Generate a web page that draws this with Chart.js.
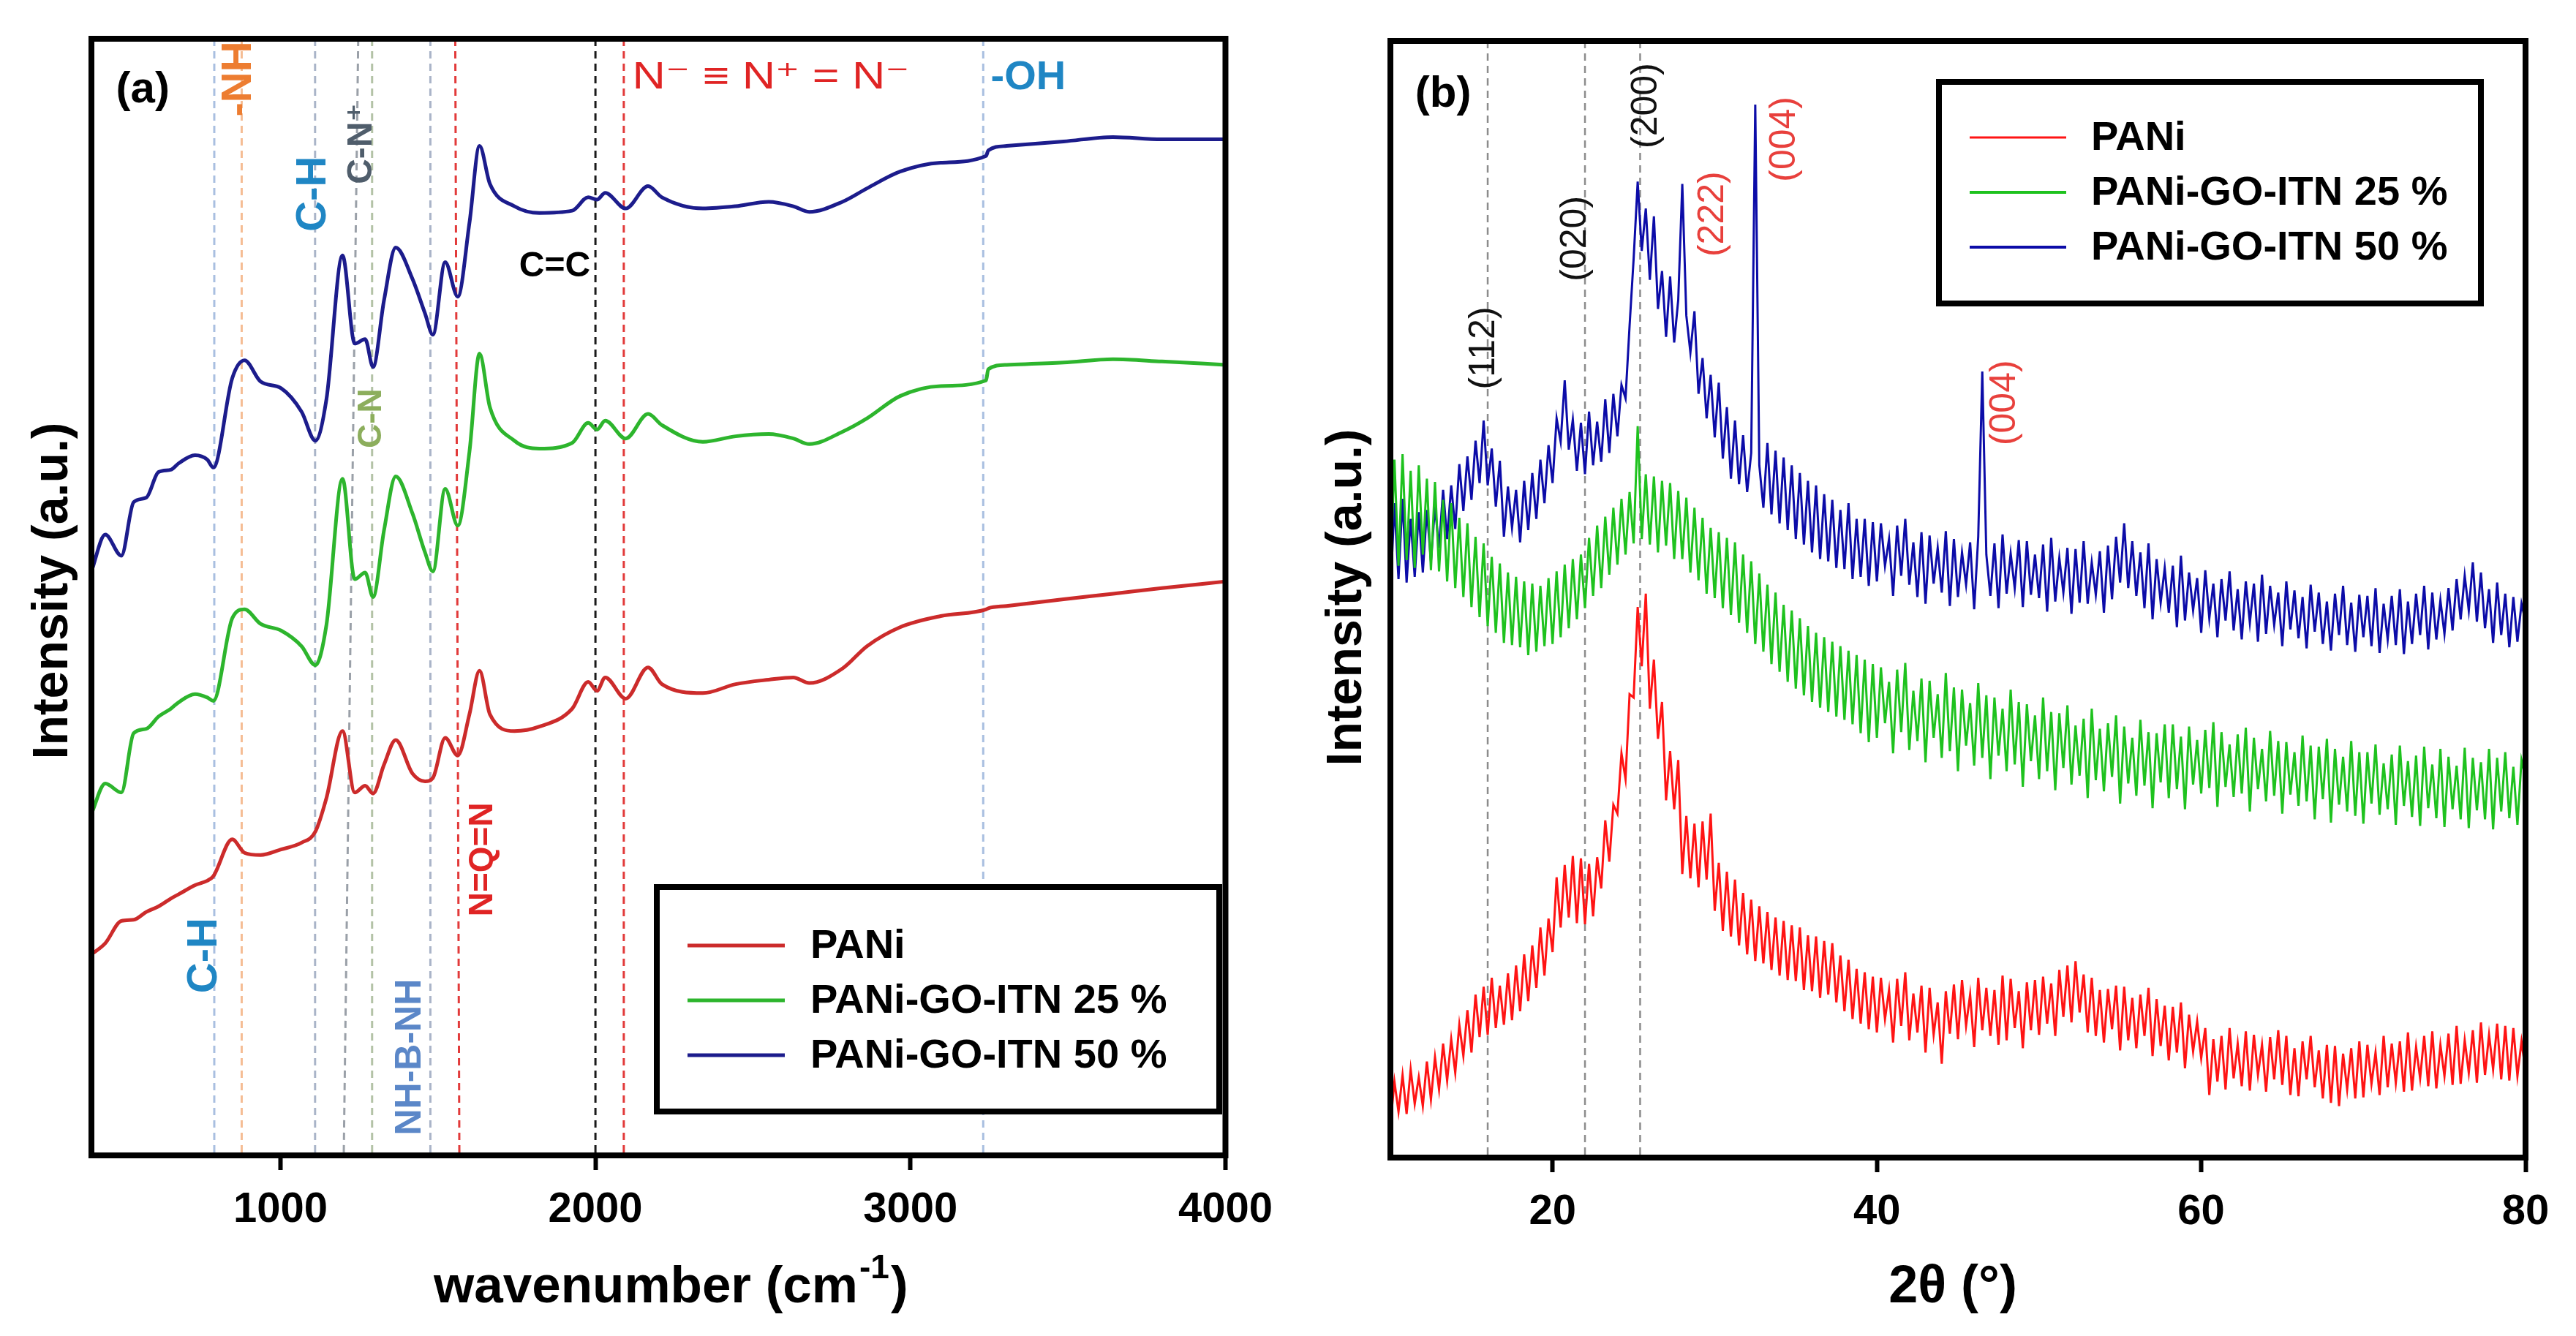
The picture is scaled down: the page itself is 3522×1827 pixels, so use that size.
<!DOCTYPE html>
<html><head><meta charset="utf-8">
<script src="https://cdn.jsdelivr.net/npm/chart.js@4/dist/chart.umd.min.js"></script>
<style>
html,body{margin:0;padding:0;background:#fff;width:3522px;height:1827px;overflow:hidden}
canvas{position:absolute;top:0}
#ca{left:0}#cb{left:1760px}
</style></head><body>
<canvas id="ca" width="1760" height="1827"></canvas>
<canvas id="cb" width="1762" height="1827"></canvas>
<script>
// ---------------- DATA ----------------
const seriesNames = ['PANi', 'PANi-GO-ITN 25 %', 'PANi-GO-ITN 50 %'];

// (a) FTIR
const ftirWavenumber = [400,444,495,534,574,613,652,678,729,768,
  787,847,886,937,1002,1067,1111,1146,1197,1236,
  1269,1294,1329,1366,1419,1459,1484,1523,1563,1600,
  1632,1665,1743,1822,1926,1977,2005,2031,2096,2167,
  2211,2341,2445,2550,2628,2679,2784,2862,2967,3096,
  3240,3247,3305,3486,3643,3798,4000];
const ftirPANi = [18.0,19.0,21.0,21.1,21.8,22.3,23.0,23.4,24.2,24.6,
  25.0,28.3,27.1,26.9,27.4,28.0,29.0,32.0,38.0,32.5,
  33.1,32.4,35.0,37.2,34.2,33.5,33.8,37.4,35.8,39.5,
  43.4,39.5,38.0,38.4,40.0,42.4,41.6,42.8,40.9,43.7,
  42.2,41.4,42.2,42.6,42.8,42.3,43.6,45.6,47.3,48.3,
  48.9,49.0,49.2,49.8,50.3,50.8,51.4];
const ftirGO25 = [30.6,33.3,32.5,37.8,38.2,39.3,40.0,40.6,41.3,41.0,
  40.7,48.1,48.9,47.6,47.0,45.6,43.9,47.5,60.6,51.6,
  52.2,50.0,56.0,60.8,57.5,54.0,52.3,59.7,56.4,63.0,
  71.8,67.0,64.0,63.3,63.8,65.6,65.0,65.8,64.2,66.4,
  65.4,63.9,64.4,64.6,64.2,63.7,64.8,66.0,68.0,68.9,
  69.4,70.4,70.8,71.0,71.3,71.1,70.8];
const ftirGO50 = [52.3,55.6,53.7,58.5,58.9,61.2,61.4,62.0,62.7,62.3,
  61.6,69.6,71.2,69.3,68.7,66.6,64.0,67.7,80.6,72.7,
  73.1,70.6,76.6,81.3,78.5,75.4,73.5,80.0,76.9,83.5,
  90.4,87.0,85.0,84.4,84.6,85.8,85.6,86.2,84.8,86.8,
  85.8,84.8,85.0,85.4,85.0,84.5,85.4,86.6,88.1,88.9,
  89.5,90.0,90.4,90.8,91.2,91.0,91.0];
const ftirTicks = [1000, 2000, 3000, 4000];
const ftirBandsTop    = [790, 877, 1110, 1247, 1291, 1476, 1555, 2000, 2090, 3231];
const ftirBandsBottom = [790, 877, 1110, 1201, 1291, 1476, 1568, 2000, 2090, 3231];

// (b) XRD
const xrdAngle = [
  10,10.25,10.5,10.75, 11,11.25,11.5,11.75, 12,12.25,12.5,12.75, 13,13.25,13.5,13.75, 14,14.25,14.5,14.75,
  15,15.25,15.5,15.75, 16,16.25,16.5,16.75, 17,17.25,17.5,17.75, 18,18.25,18.5,18.75, 19,19.25,19.5,19.75,
  20,20.25,20.5,20.75, 21,21.25,21.5,21.75, 22,22.25,22.5,22.75, 23,23.25,23.5,23.75, 24,24.25,24.5,24.75,
  25,25.25,25.5,25.75, 26,26.25,26.5,26.75, 27,27.25,27.5,27.75, 28,28.25,28.5,28.75, 29,29.25,29.5,29.75,
  30,30.25,30.5,30.75, 31,31.25,31.5,31.75, 32,32.25,32.5,32.75, 33,33.25,33.5,33.75, 34,34.25,34.5,34.75,
  35,35.25,35.5,35.75, 36,36.25,36.5,36.75, 37,37.25,37.5,37.75, 38,38.25,38.5,38.75, 39,39.25,39.5,39.75,
  40,40.25,40.5,40.75, 41,41.25,41.5,41.75, 42,42.25,42.5,42.75, 43,43.25,43.5,43.75, 44,44.25,44.5,44.75,
  45,45.25,45.5,45.75, 46,46.25,46.5,46.75, 47,47.25,47.5,47.75, 48,48.25,48.5,48.75, 49,49.25,49.5,49.75,
  50,50.25,50.5,50.75, 51,51.25,51.5,51.75, 52,52.25,52.5,52.75, 53,53.25,53.5,53.75, 54,54.25,54.5,54.75,
  55,55.25,55.5,55.75, 56,56.25,56.5,56.75, 57,57.25,57.5,57.75, 58,58.25,58.5,58.75, 59,59.25,59.5,59.75,
  60,60.25,60.5,60.75, 61,61.25,61.5,61.75, 62,62.25,62.5,62.75, 63,63.25,63.5,63.75, 64,64.25,64.5,64.75,
  65,65.25,65.5,65.75, 66,66.25,66.5,66.75, 67,67.25,67.5,67.75, 68,68.25,68.5,68.75, 69,69.25,69.5,69.75,
  70,70.25,70.5,70.75, 71,71.25,71.5,71.75, 72,72.25,72.5,72.75, 73,73.25,73.5,73.75, 74,74.25,74.5,74.75,
  75,75.25,75.5,75.75, 76,76.25,76.5,76.75, 77,77.25,77.5,77.75, 78,78.25,78.5,78.75, 79,79.25,79.5,79.75,
  80];
const xrdPANi = [
  3.0,6.8,4.1,7.4, 3.9,7.9,4.8,7.2, 4.6,8.6,5.2,9.0, 6.1,10.2,6.9,10.6, 7.6,11.9,9.1,13.2,
  9.4,14.6,10.8,15.3, 11.0,16.1,11.6,15.4, 11.9,16.5,12.3,17.2, 13.1,18.2,14.0,19.0, 15.2,20.6,16.3,21.4,
  18.4,25.1,20.6,26.2, 21.5,27.0,21.0,26.8, 20.9,26.3,21.6,26.9, 24.1,30.2,26.5,31.6, 30.8,36.2,33.9,41.5,
  41.2,49.3,44.0,50.5, 40.2,44.6,37.5,40.8, 32.0,36.4,31.2,35.6, 25.4,30.6,25.0,29.9, 24.2,30.1,24.9,30.8,
  22.1,26.4,20.3,25.6, 19.8,24.9,19.0,23.7, 18.2,23.1,17.6,22.5, 17.4,22.0,16.8,21.5, 16.3,21.2,15.9,20.8,
  15.8,20.6,15.0,19.9, 14.9,19.8,14.3,19.4, 14.6,19.2,13.9,18.1, 13.1,17.7,12.4,16.9, 12.0,16.6,11.5,16.2,
  11.2,16.1,12.4,15.0, 10.3,16.0,11.8,16.6, 10.5,14.7,11.2,15.4, 9.4,15.2,11.0,13.9, 8.4,14.9,11.1,15.5,
  10.6,15.9,11.8,14.6, 9.9,16.1,11.4,15.2, 10.9,15.0,10.1,16.3, 10.5,16.0,11.6,14.9, 9.8,15.7,11.4,15.9,
  11.0,16.2,12.0,15.6, 10.9,16.8,12.6,17.2, 12.1,17.6,13.0,16.4, 11.2,16.1,10.9,15.0, 10.3,15.1,11.5,15.4,
  9.6,15.3,10.5,14.3, 9.8,14.6,10.9,15.2, 9.1,14.2,10.0,13.6, 8.7,13.5,9.4,13.9, 8.0,12.8,9.5,12.2,
  8.9,11.6,5.6,10.6, 6.8,10.9,6.1,11.6, 7.1,10.2,6.4,11.3, 6.0,11.0,7.4,10.1, 5.9,10.8,7.0,11.4,
  6.5,10.9,5.6,9.8, 5.5,10.4,7.0,10.9, 6.3,9.6,5.3,10.1, 4.9,10.0,4.6,9.3, 6.1,9.8,5.3,10.4,
  5.4,10.1,6.6,9.4, 5.6,10.9,6.3,10.2, 6.7,10.4,5.9,11.2, 6.0,9.9,7.1,10.9, 6.4,11.3,6.2,10.1,
  7.3,11.1,6.5,11.8, 6.6,10.5,7.6,11.4, 6.7,12.1,7.4,11.0, 7.9,12.0,7.0,11.8, 6.9,11.6,7.3,10.4,
  7.8];
const xrdGO25 = [
  52.0,62.5,53.0,63.0, 53.5,61.5,52.8,62.0, 54.0,60.8,52.6,60.5, 52.5,58.9,51.6,58.6, 51.0,57.3,50.2,56.8,
  49.3,55.6,48.4,55.0, 47.6,53.8,47.0,53.2, 46.1,52.4,45.9,52.0, 45.7,51.6,45.0,51.4, 45.3,51.2,45.8,51.9,
  46.0,52.5,46.6,53.1, 47.4,53.6,48.2,54.0, 49.2,55.5,50.3,56.6, 51.0,57.4,52.2,58.2, 53.1,59.0,54.0,59.6,
  55.0,65.5,55.4,61.2, 54.9,61.0,54.2,60.6, 54.8,60.4,53.6,59.7, 53.6,59.1,52.4,58.2, 51.7,57.3,50.5,56.4,
  50.1,56.0,49.2,55.5, 48.6,55.1,47.9,54.0, 47.0,53.4,46.0,52.3, 45.3,51.3,44.2,50.6, 43.5,49.5,42.6,49.0,
  42.0,48.3,41.4,47.6, 40.8,47.0,40.3,46.6, 39.9,46.2,39.5,45.8, 39.2,45.4,38.8,45.0, 38.0,44.6,37.2,44.2,
  37.6,43.9,38.9,42.6, 36.2,43.7,38.1,44.3, 36.5,41.8,37.3,42.9, 35.4,42.7,37.6,41.5, 35.8,43.4,36.4,42.1,
  34.6,41.9,36.9,40.7, 35.1,42.5,35.8,41.4, 33.9,41.2,36.0,40.2, 34.6,41.9,35.2,40.8, 33.2,40.6,35.5,39.6,
  33.9,41.2,34.6,39.9, 32.9,39.8,34.9,40.5, 33.4,38.7,34.2,39.3, 32.2,40.2,33.8,38.4, 32.8,38.9,34.1,39.6,
  31.7,38.6,33.5,37.6, 32.4,39.2,33.3,38.1, 31.3,38.0,33.6,38.8, 32.2,38.8,33.0,37.7, 31.2,38.6,33.4,37.4,
  32.6,38.3,33.1,39.0, 31.4,38.1,33.2,37.0, 32.3,37.9,32.6,38.5, 31.0,37.6,33.0,36.6, 31.9,38.2,32.4,37.3,
  30.8,37.2,32.5,36.3, 31.5,37.8,31.9,36.9, 30.3,36.8,32.1,37.5, 30.0,36.6,31.6,35.9, 31.0,37.3,30.6,36.3,
  29.9,36.3,31.7,37.0, 30.7,35.3,31.2,36.1, 29.8,36.9,31.5,35.5, 30.5,36.0,29.7,36.8, 31.3,35.2,30.4,36.6,
  29.6,35.9,31.2,35.1, 30.3,36.7,29.5,35.8, 31.1,35.4,30.3,36.6, 29.4,35.8,31.0,36.3, 30.4,35.0,29.8,35.6,
  34.0];
const xrdGO50 = [
  50.5,58.6,51.8,59.0, 51.5,57.2,52.0,57.8, 52.4,58.0,53.4,58.3, 54.6,59.8,55.4,60.2, 56.3,62.1,57.9,62.8,
  58.9,64.2,60.4,66.0, 60.2,63.5,58.3,62.4, 55.6,60.1,56.4,59.8, 55.1,60.6,56.2,61.3, 57.2,62.5,58.6,63.8,
  60.4,66.2,64.1,69.6, 63.4,66.1,61.5,65.8, 61.2,66.8,62.0,65.9, 62.3,67.9,63.1,68.4, 64.6,69.2,68.0,74.5,
  80.5,87.4,81.2,85.0, 78.6,84.3,76.0,79.4, 73.5,78.9,73.0,76.8, 87.2,75.4,72.1,75.8, 68.4,71.6,66.2,70.1,
  64.5,69.4,62.6,67.2, 60.8,66.0,60.3,64.7, 59.6,63.1,94.3,62.0, 58.2,64.0,57.6,63.3, 56.8,62.7,56.2,62.0,
  55.4,61.3,54.9,60.6, 54.2,60.2,53.6,59.4, 53.4,58.9,52.8,58.0, 52.7,58.6,51.8,57.2, 52.0,57.2,51.2,56.9,
  51.6,56.8,53.0,55.4, 50.3,56.6,52.1,57.2, 51.3,55.1,50.2,56.0, 49.6,55.7,51.4,54.6, 50.6,56.1,49.4,55.4,
  50.2,54.2,51.3,55.1, 49.1,55.6,70.4,54.0, 50.3,55.0,49.2,55.8, 50.5,54.1,51.0,55.3, 49.3,55.2,50.4,54.0,
  50.1,54.9,48.9,55.5, 49.8,53.7,50.6,54.6, 48.7,54.5,49.7,55.2, 49.6,53.3,50.4,54.3, 48.8,54.8,50.0,55.6,
  51.5,56.8,51.0,55.2, 50.3,54.2,49.2,55.0, 48.2,53.6,49.7,52.8, 48.8,53.0,47.5,53.9, 48.1,52.4,49.0,51.9,
  47.0,52.6,48.3,51.4, 46.6,51.8,48.1,52.5, 47.2,50.9,46.4,51.6, 47.9,51.4,46.2,52.2, 46.9,51.2,47.7,50.6,
  45.8,51.6,47.3,50.8, 46.5,50.2,45.6,51.3, 47.1,50.6,46.0,49.8, 45.4,50.5,46.8,51.2, 45.9,49.7,45.3,50.4,
  46.6,50.3,45.8,51.0, 45.2,49.6,46.4,50.3, 45.9,50.9,45.1,49.8, 46.0,50.5,46.8,51.2, 45.5,50.6,46.4,49.9,
  46.9,51.0,47.2,51.8, 48.2,52.1,49.0,53.3, 48.0,52.4,47.4,50.9, 46.1,51.5,46.8,50.5, 45.7,50.2,46.2,49.6,
  48.0];
const xrdTicks = [20, 40, 60, 80];
const xrdPlanes = [16, 22, 25.4];

// ---------------- STYLE ----------------
const FONT = '"Liberation Sans", Arial, "DejaVu Sans", sans-serif';
const ftirColors = ['#cc2b2b', '#2db52d', '#1c1c8c'];
const xrdColors = ['#ff1414', '#1ec21e', '#0c0ca8'];
const ftirBandColors = ['#a9bfe0', '#f5bd94', '#a9b4c8', '#9aa0a8', '#b3c2a6', '#a9b4c8', '#e23a3a', '#1a1a1a', '#e23a3a', '#a9bfe0'];

const ftirNotes = [
  {t:'(a)', x:563, y:95.4, font:'bold 60px', color:'#000', rot:0},
  {t:'-NH', x:870, y:96.4, font:'bold 58px', color:'#ed7d31', rot:-90},
  {t:'C-H', x:1107, y:86.1, font:'bold 58px', color:'#1f86c4', rot:-90},
  {t:'C-N\u207A', x:1259, y:90.6, font:'bold 48px', color:'#4f5d6b', rot:-90},
  {t:'C-N', x:1291, y:66.0, font:'bold 46px', color:'#8cae5c', rot:-90},
  {t:'C=C', x:1871, y:79.6, font:'bold 48px', color:'#000', rot:0},
  {t:'N\u207B \u2261 N\u207A = N\u207B', x:2557, y:96.5, font:'52px', color:'#e02424', rot:0, width:379},
  {t:'-OH', x:3374, y:96.5, font:'bold 56px', color:'#1f86c4', rot:0},
  {t:'C-H', x:761, y:17.9, font:'bold 58px', color:'#1f86c4', rot:-90},
  {t:'NH-B-NH', x:1413, y:8.8, font:'bold 50px', color:'#5b87c8', rot:-90},
  {t:'N=Q=N', x:1643, y:26.5, font:'bold 46px', color:'#e02424', rot:-90}
];
const xrdNotes = [
  {t:'(b)', x:13.25, y:95.2, font:'bold 60px', color:'#000', rot:0},
  {t:'(112)', x:15.78, y:72.5, font:'50px', color:'#111', rot:-90},
  {t:'(020)', x:21.4, y:82.3, font:'50px', color:'#111', rot:-90},
  {t:'(200)', x:25.8, y:94.2, font:'50px', color:'#111', rot:-90},
  {t:'(222)', x:29.9, y:84.5, font:'50px', color:'#e8403c', rot:-90},
  {t:'(004)', x:34.3, y:91.2, font:'50px', color:'#e8403c', rot:-90},
  {t:'(004)', x:47.9, y:67.6, font:'50px', color:'#e8403c', rot:-90}
];

// ---------------- HELPERS ----------------
function drawText(ctx, s, x, y, o) {
  ctx.save();
  ctx.translate(x, y);
  if (o.rot) ctx.rotate(o.rot * Math.PI / 180);
  ctx.font = o.font + ' ' + FONT;
  ctx.fillStyle = o.color || '#000';
  ctx.textAlign = 'center';
  ctx.textBaseline = 'middle';
  if (o.width) { const w = ctx.measureText(s).width; ctx.scale(o.width / w, 1); }
  ctx.fillText(s, 0, 0);
  ctx.restore();
}
function pts(xs, ys) { return xs.map((x, i) => ({x: x, y: ys[i]})); }

function makePlugin(cfg) {
  return {
    id: 'deco_' + cfg.name,
    afterDraw(chart) {
      const ctx = chart.ctx, ca = chart.chartArea;
      const xs = chart.scales.x, ys = chart.scales.y;
      ctx.save();
      ctx.strokeStyle = '#000'; ctx.lineWidth = 8;
      ctx.strokeRect(ca.left, ca.top, ca.right - ca.left, ca.bottom - ca.top);
      ctx.restore();
      cfg.notes.forEach(n => drawText(ctx, n.t, xs.getPixelForValue(n.x), ys.getPixelForValue(n.y), n));
      const L = cfg.legend;
      ctx.save();
      ctx.fillStyle = '#fff';
      ctx.fillRect(L.x0, L.y0, L.x1 - L.x0, L.y1 - L.y0);
      ctx.strokeStyle = '#000'; ctx.lineWidth = 8;
      ctx.strokeRect(L.x0, L.y0, L.x1 - L.x0, L.y1 - L.y0);
      seriesNames.forEach((nm, i) => {
        const yy = L.rows[i];
        ctx.strokeStyle = cfg.colors[i]; ctx.lineWidth = L.lw[i];
        ctx.beginPath(); ctx.moveTo(L.lx0, yy); ctx.lineTo(L.lx1, yy); ctx.stroke();
        ctx.fillStyle = '#000'; ctx.font = 'bold 56px ' + FONT;
        ctx.textAlign = 'left'; ctx.textBaseline = 'middle';
        ctx.fillText(nm, L.tx, yy + 2);
      });
      ctx.restore();
      drawText(ctx, 'Intensity (a.u.)', cfg.yTitle.x, cfg.yTitle.y, {font:'bold 68px', color:'#000', rot:-90});
      cfg.drawXTitle(ctx, (ca.left + ca.right) / 2 + cfg.xTitleDx, 1781);
    }
  };
}

function titleA(ctx, cx, base) {
  ctx.save();
  const big = 'bold 71px ' + FONT, small = 'bold 46px ' + FONT;
  const a = 'wavenumber (cm', b = '-1', c = ')';
  ctx.font = big; const wa = ctx.measureText(a).width, wc = ctx.measureText(c).width;
  ctx.font = small; const wb = ctx.measureText(b).width;
  let x = cx - (wa + wb + wc) / 2;
  ctx.fillStyle = '#000'; ctx.textAlign = 'left'; ctx.textBaseline = 'alphabetic';
  ctx.font = big; ctx.fillText(a, x, base); x += wa;
  ctx.font = small; ctx.fillText(b, x + 2, base - 33); x += wb + 4;
  ctx.font = big; ctx.fillText(c, x, base);
  ctx.restore();
}
function titleB(ctx, cx, base) {
  ctx.save();
  ctx.font = 'bold 72px ' + FONT; ctx.fillStyle = '#000';
  ctx.textAlign = 'center'; ctx.textBaseline = 'alphabetic';
  ctx.fillText('2\u03B8 (\u00B0)', cx, base);
  ctx.restore();
}

function xScale(min, max, tickVals, h) {
  return {
    type: 'linear', min: min, max: max,
    afterBuildTicks: s => { s.ticks = tickVals.map(v => ({value: v})); },
    afterFit: s => { s.height = h; },
    grid: {drawOnChartArea: false, drawTicks: true, tickLength: 20, tickWidth: 6, tickColor: '#000'},
    border: {display: false},
    ticks: {font: {family: FONT, size: 58, weight: 'bold'}, color: '#000', padding: 20, maxRotation: 0, autoSkip: false,
            callback: v => String(v)}
  };
}

// ---------------- CHART A (FTIR) ----------------
const dsA = [ftirPANi, ftirGO25, ftirGO50].map((ys, i) => ({
  label: seriesNames[i], data: pts(ftirWavenumber, ys), borderColor: ftirColors[i],
  borderWidth: 5, pointRadius: 0, cubicInterpolationMode: 'monotone', order: 0
}));
ftirBandsTop.forEach((b, i) => dsA.push({
  label: 'band' + i, data: [{x: b, y: 100}, {x: ftirBandsBottom[i], y: 0}],
  borderColor: ftirBandColors[i], borderWidth: 3, borderDash: [10, 7], pointRadius: 0, order: 1
}));
new Chart(document.getElementById('ca'), {
  type: 'line',
  data: {datasets: dsA},
  options: {
    responsive: false, animation: false, devicePixelRatio: 1,
    layout: {padding: {left: 125, right: 71, top: 53, bottom: 0}},
    plugins: {legend: {display: false}, tooltip: {enabled: false}},
    scales: {x: xScale(400, 4000, ftirTicks, 247), y: {display: false, min: 0, max: 100}}
  },
  plugins: [makePlugin({
    name: 'a', notes: ftirNotes, colors: ftirColors,
    legend: {x0: 898, y0: 1213, x1: 1667, y1: 1520, rows: [1293, 1368, 1443], lx0: 940, lx1: 1073, tx: 1108, lw: [5, 5, 5]},
    yTitle: {x: 73, y: 808}, xTitleDx: 15, drawXTitle: titleA
  })]
});

// ---------------- CHART B (XRD) ----------------
const dsB = [xrdPANi, xrdGO25, xrdGO50].map((ys, i) => ({
  label: seriesNames[i], data: pts(xrdAngle, ys), borderColor: xrdColors[i],
  borderWidth: 3, pointRadius: 0, tension: 0, order: 0
}));
xrdPlanes.forEach((p, i) => dsB.push({
  label: 'plane' + i, data: [{x: p, y: 100}, {x: p, y: 0}],
  borderColor: '#8c8c8c', borderWidth: 2.5, borderDash: [10, 7], pointRadius: 0, order: 1
}));
new Chart(document.getElementById('cb'), {
  type: 'line',
  data: {datasets: dsB},
  options: {
    responsive: false, animation: false, devicePixelRatio: 1,
    layout: {padding: {left: 141, right: 69, top: 56, bottom: 0}},
    plugins: {legend: {display: false}, tooltip: {enabled: false}},
    scales: {x: xScale(10, 80, xrdTicks, 244), y: {display: false, min: 0, max: 100}}
  },
  plugins: [makePlugin({
    name: 'b', notes: xrdNotes, colors: xrdColors,
    legend: {x0: 891, y0: 112, x1: 1632, y1: 415, rows: [188, 263, 338], lx0: 933, lx1: 1065, tx: 1099, lw: [3, 4, 4]},
    yTitle: {x: 82, y: 817}, xTitleDx: -7, drawXTitle: titleB
  })]
});
</script>
</body></html>
